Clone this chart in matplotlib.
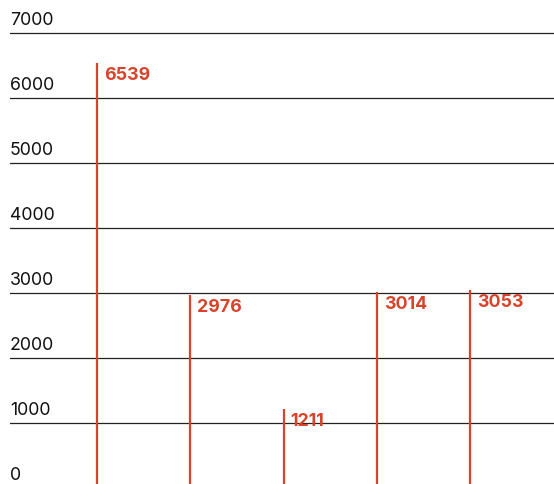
import matplotlib.pyplot as plt

# Valores por categoría
categories = ["A", "B", "C", "D", "E"]
values = [6539, 2976, 1211, 3014, 3053]
y_ticks = [1000, 2000, 3000, 4000, 5000, 6000, 7000]

RED = "#d7442b"

plt.rcParams['font.family'] = ['Inter', 'DejaVu Sans']

fig = plt.figure(figsize=(5.54, 4.84), dpi=100)
ax = fig.add_axes([10 / 554, 0, 544 / 554, 1])

# Líneas horizontales de referencia
for t in y_ticks:
    ax.axhline(t, color="#222222", linewidth=0.9, zorder=1)

# Etiquetas del eje y encima de cada línea
for t in [0] + y_ticks:
    ax.annotate(str(t), xy=(0, t), xycoords=('axes fraction', 'data'),
                xytext=(0, 3), textcoords='offset points',
                ha='left', va='bottom', fontsize=12.8, color="#111111")

# Líneas verticales con su valor
x = list(range(len(categories)))
ax.vlines(x, 0, values, color=RED, linewidth=1.6, zorder=2)
for xi, v in zip(x, values):
    ax.annotate(str(v), xy=(xi, v), xytext=(5, -3), textcoords='offset points',
                ha='left', va='top', fontsize=12.8, fontweight='bold', color=RED)

ax.set_xlim(-0.932, 4.898)
ax.set_ylim(62, 7508)
ax.axis('off')

fig.savefig("out.png", dpi=100)
